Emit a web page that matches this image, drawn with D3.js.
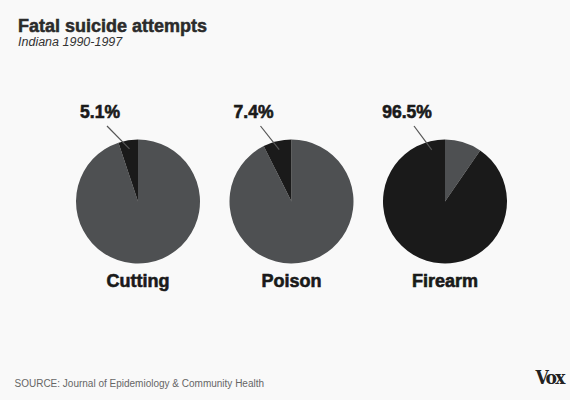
<!DOCTYPE html>
<html><head><meta charset="utf-8">
<script src="https://cdn.jsdelivr.net/npm/d3@7"></script>
<style>
html,body{margin:0;padding:0;background:#f9f9f9;}
svg{display:block;}
</style></head>
<body>
<script>
// Data
const categories = ["Cutting", "Poison", "Firearm"];
const fatalLabels = ["5.1%", "7.4%", "96.5%"];
const fatalShare = [5.1, 7.4, 90.4]; // share of the dark slice as drawn
const title = "Fatal suicide attempts";
const subtitle = "Indiana 1990-1997";
const source = "SOURCE: Journal of Epidemiology & Community Health";

const W = 570, H = 400;
const svg = d3.select("body").append("svg").attr("width", W).attr("height", H);
svg.append("rect").attr("width", W).attr("height", H).attr("fill", "#f9f9f9");

svg.append("text").attr("x", 18).attr("y", 32)
  .attr("font-family", "Liberation Sans, Arial, sans-serif").attr("font-weight", "bold")
  .attr("font-size", 18).attr("fill", "#2b2b2b")
  .attr("stroke", "#2b2b2b").attr("stroke-width", 0.5).text(title);
svg.append("text").attr("x", 18).attr("y", 46)
  .attr("font-family", "Liberation Sans, Arial, sans-serif").attr("font-style", "italic")
  .attr("font-size", 12.5).attr("fill", "#333").text(subtitle);

const x = d3.scalePoint().domain(categories).range([138, 445]);
const cy = 201.5, r = 62;
const pie = d3.pie().sort(null).value(d => d.v);
const arc = d3.arc().innerRadius(0).outerRadius(r);
const colors = ["#4e5052", "#1a1a1a"];

categories.forEach((c, i) => {
  const g = svg.append("g").attr("transform", `translate(${x(c)},${cy})`);
  const data = [{k: "other", v: 100 - fatalShare[i]}, {k: "fatal", v: fatalShare[i]}];
  const arcs = pie(data);
  g.selectAll("path").data(arcs).join("path")
    .attr("d", arc).attr("fill", (d, j) => colors[j]);
  const fat = arcs[1];
  const span = fat.endAngle - fat.startAngle;
  const a = fat.endAngle - Math.min(span / 2, 0.25);
  const [ex, ey] = d3.pointRadial(a, r * 0.86);
  g.append("line").attr("x1", -31).attr("y1", 126 - cy).attr("x2", ex).attr("y2", ey)
    .attr("stroke", "#555").attr("stroke-width", 1.2);
  g.append("text").attr("x", -38).attr("y", 118 - cy).attr("text-anchor", "middle")
    .attr("font-family", "Liberation Sans, Arial, sans-serif").attr("font-weight", "bold")
    .attr("font-size", 17.5).attr("fill", "#1a1a1a")
    .attr("stroke", "#1a1a1a").attr("stroke-width", 0.6).text(fatalLabels[i]);
  g.append("text").attr("x", 0).attr("y", 287 - cy).attr("text-anchor", "middle")
    .attr("font-family", "Liberation Sans, Arial, sans-serif").attr("font-weight", "bold")
    .attr("font-size", 18).attr("fill", "#1a1a1a")
    .attr("stroke", "#1a1a1a").attr("stroke-width", 0.6).text(c);
});

svg.append("text").attr("x", 14.5).attr("y", 387)
  .attr("font-family", "Liberation Sans, Arial, sans-serif")
  .attr("font-size", 10).attr("fill", "#666").text(source);
svg.append("text").attr("x", 564).attr("y", 384).attr("text-anchor", "end")
  .attr("font-family", "DejaVu Serif Condensed, DejaVu Serif, serif").attr("font-weight", "bold")
  .attr("font-size", 19).attr("letter-spacing", -1.5)
  .attr("fill", "#222").text("Vox");
</script>
</body></html>
